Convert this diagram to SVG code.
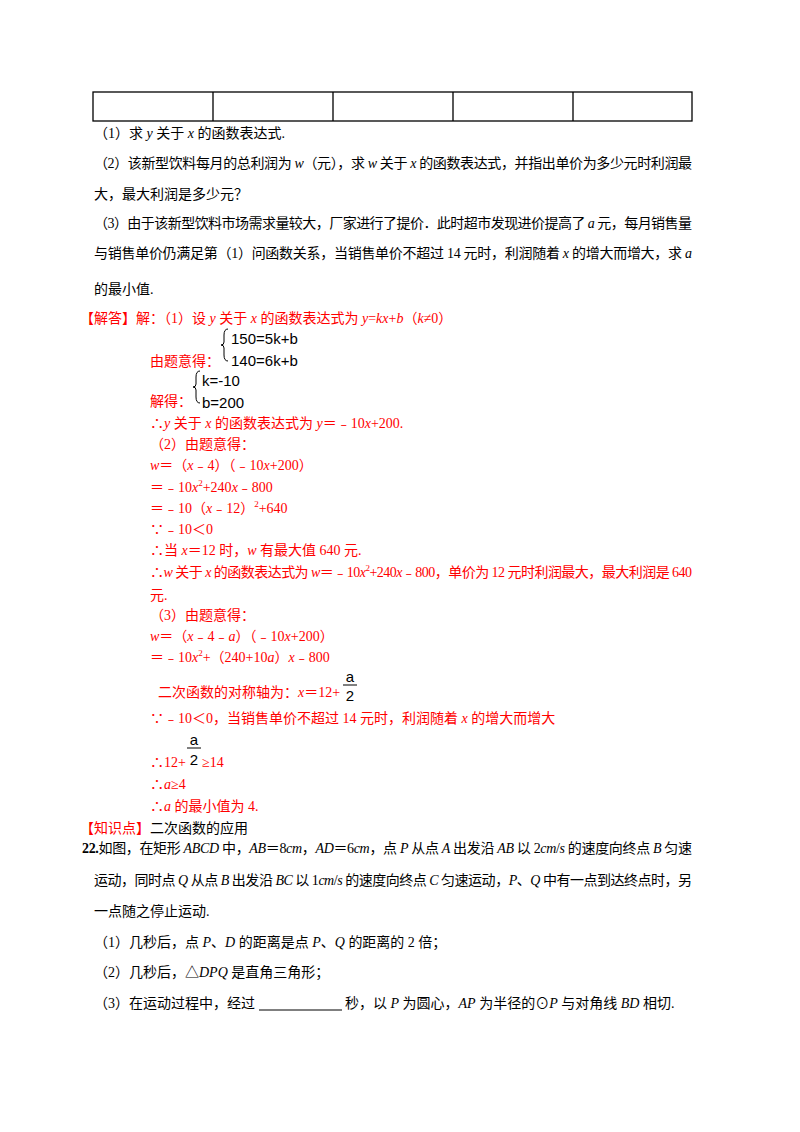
<svg xmlns="http://www.w3.org/2000/svg" width="800" height="1132" viewBox="0 0 800 1132">
<style>
text{font-family:"Liberation Serif","Noto Sans CJK SC",serif;font-size:14px;fill:#000}
.r{fill:#ff0000}
.i{font-style:italic}
.m{font-family:"Liberation Sans","Noto Sans CJK SC",sans-serif;font-size:15px;fill:#000}
.cell{fill:none;stroke:#000;stroke-width:1.3}
.br{fill:none;stroke:#000;stroke-width:1}
</style>
<rect width="800" height="1132" fill="#fff"/>
<g id="table">
<rect class="cell" x="93" y="92" width="599" height="29"/>
<path class="cell" d="M213 92V121M333 92V121M453 92V121M573 92V121"/>
</g>
<text x="94" y="138">（1）求 <tspan class="i">y</tspan> 关于 <tspan class="i">x</tspan> 的函数表达式.</text>
<text x="94" y="168" textLength="598" lengthAdjust="spacing">（2）该新型饮料每月的总利润为 <tspan class="i">w</tspan>（元），求 <tspan class="i">w</tspan> 关于 <tspan class="i">x</tspan> 的函数表达式，并指出单价为多少元时利润最</text>
<text x="94" y="199">大，最大利润是多少元？</text>
<text x="94" y="228" textLength="598" lengthAdjust="spacing">（3）由于该新型饮料市场需求量较大，厂家进行了提价．此时超市发现进价提高了 <tspan class="i">a</tspan> 元，每月销售量</text>
<text x="94" y="258" textLength="598" lengthAdjust="spacing">与销售单价仍满足第（1）问函数关系，当销售单价不超过 14 元时，利润随着 <tspan class="i">x</tspan> 的增大而增大，求 <tspan class="i">a</tspan></text>
<text x="94" y="294">的最小值.</text>

<text x="80" y="323" class="r">【解答】解：（1）设 <tspan class="i">y</tspan> 关于 <tspan class="i">x</tspan> 的函数表达式为 <tspan class="i">y</tspan>=<tspan class="i">kx</tspan>+<tspan class="i">b</tspan>（<tspan class="i">k</tspan>≠0）</text>
<path class="br" d="M228 329Q224 329 224 335V342Q224 345 221 345Q224 345 224 348V355Q224 361 228 361"/>
<text x="231" y="344" class="m">150=5k+b</text>
<text x="231" y="366" class="m">140=6k+b</text>
<text x="150" y="366" class="r">由题意得：</text>
<path class="br" d="M200 371Q196 371 196 377V384Q196 387 193 387Q196 387 196 390V397Q196 403 200 403"/>
<text x="202" y="386" class="m">k=-10</text>
<text x="202" y="408" class="m">b=200</text>
<text x="150" y="406" class="r">解得：</text>
<text x="150" y="428" class="r">∴<tspan class="i">y</tspan> 关于 <tspan class="i">x</tspan> 的函数表达式为 <tspan class="i">y</tspan>＝﹣10<tspan class="i">x</tspan>+200.</text>
<text x="150" y="449" class="r">（2）由题意得：</text>
<text x="150" y="470" class="r"><tspan class="i">w</tspan>＝（<tspan class="i">x</tspan>﹣4）（﹣10<tspan class="i">x</tspan>+200）</text>
<text x="150" y="492" class="r">＝﹣10<tspan class="i">x</tspan><tspan font-size="9" dy="-6">2</tspan><tspan dy="6">+240</tspan><tspan class="i">x</tspan>﹣800</text>
<text x="150" y="513" class="r">＝﹣10（<tspan class="i">x</tspan>﹣12）<tspan font-size="9" dy="-6">2</tspan><tspan dy="6">+640</tspan></text>
<text x="150" y="534" class="r">∵﹣10＜0</text>
<text x="150" y="555" class="r">∴当 <tspan class="i">x</tspan>＝12 时，<tspan class="i">w</tspan> 有最大值 640 元.</text>
<text x="150" y="577" class="r" textLength="542" lengthAdjust="spacing">∴<tspan class="i">w</tspan> 关于 <tspan class="i">x</tspan> 的函数表达式为 <tspan class="i">w</tspan>＝﹣10<tspan class="i">x</tspan><tspan font-size="9" dy="-6">2</tspan><tspan dy="6">+240</tspan><tspan class="i">x</tspan>﹣800，单价为 12 元时利润最大，最大利润是 640</text>
<text x="150" y="600" class="r">元.</text>
<text x="150" y="620" class="r">（3）由题意得：</text>
<text x="150" y="641" class="r"><tspan class="i">w</tspan>＝（<tspan class="i">x</tspan>﹣4﹣<tspan class="i">a</tspan>）（﹣10<tspan class="i">x</tspan>+200）</text>
<text x="150" y="662" class="r">＝﹣10<tspan class="i">x</tspan><tspan font-size="9" dy="-6">2</tspan><tspan dy="6">+（240+10</tspan><tspan class="i">a</tspan>）<tspan class="i">x</tspan>﹣800</text>
<text x="158" y="697" class="r">二次函数的对称轴为：<tspan class="i">x</tspan>＝12+</text>
<text x="350" y="682" class="m" font-size="12" text-anchor="middle">a</text>
<line x1="343" y1="685" x2="357" y2="685" stroke="#000" stroke-width="1"/>
<text x="350" y="701" class="m" text-anchor="middle">2</text>
<text x="150" y="723" class="r">∵﹣10＜0，当销售单价不超过 14 元时，利润随着 <tspan class="i">x</tspan> 的增大而增大</text>
<text x="194" y="745" class="m" font-size="12" text-anchor="middle">a</text>
<line x1="187" y1="748" x2="201" y2="748" stroke="#000" stroke-width="1"/>
<text x="194" y="765" class="m" text-anchor="middle">2</text>
<text x="150" y="767" class="r">∴12+<tspan x="202">≥14</tspan></text>
<text x="150" y="789" class="r">∴<tspan class="i">a</tspan>≥4</text>
<text x="150" y="811" class="r">∴<tspan class="i">a</tspan> 的最小值为 4.</text>
<text x="80" y="833"><tspan class="r">【知识点】</tspan>二次函数的应用</text>
<text x="82" y="853" textLength="610" lengthAdjust="spacing"><tspan font-weight="bold">22.</tspan>如图，在矩形 <tspan class="i">ABCD</tspan> 中，<tspan class="i">AB</tspan>＝8<tspan class="i">cm</tspan>，<tspan class="i">AD</tspan>＝6<tspan class="i">cm</tspan>，点 <tspan class="i">P</tspan> 从点 <tspan class="i">A</tspan> 出发沿 <tspan class="i">AB</tspan> 以 2<tspan class="i">cm</tspan>/<tspan class="i">s</tspan> 的速度向终点 <tspan class="i">B</tspan> 匀速</text>
<text x="94" y="885" textLength="598" lengthAdjust="spacing">运动，同时点 <tspan class="i">Q</tspan> 从点 <tspan class="i">B</tspan> 出发沿 <tspan class="i">BC</tspan> 以 1<tspan class="i">cm</tspan>/<tspan class="i">s</tspan> 的速度向终点 <tspan class="i">C</tspan> 匀速运动，<tspan class="i">P</tspan>、<tspan class="i">Q</tspan> 中有一点到达终点时，另</text>
<text x="94" y="916">一点随之停止运动.</text>
<text x="94" y="947">（1）几秒后，点 <tspan class="i">P</tspan>、<tspan class="i">D</tspan> 的距离是点 <tspan class="i">P</tspan>、<tspan class="i">Q</tspan> 的距离的 2 倍；</text>
<text x="94" y="977">（2）几秒后，△<tspan class="i">DPQ</tspan> 是直角三角形；</text>
<text x="94" y="1008">（3）在运动过程中，经过<tspan x="345">秒，以 </tspan><tspan class="i">P</tspan> 为圆心，<tspan class="i">AP</tspan> 为半径的⊙<tspan class="i">P</tspan> 与对角线 <tspan class="i">BD</tspan> 相切.</text>
<line x1="259" y1="1010" x2="342" y2="1010" stroke="#000" stroke-width="1"/>
</svg>
